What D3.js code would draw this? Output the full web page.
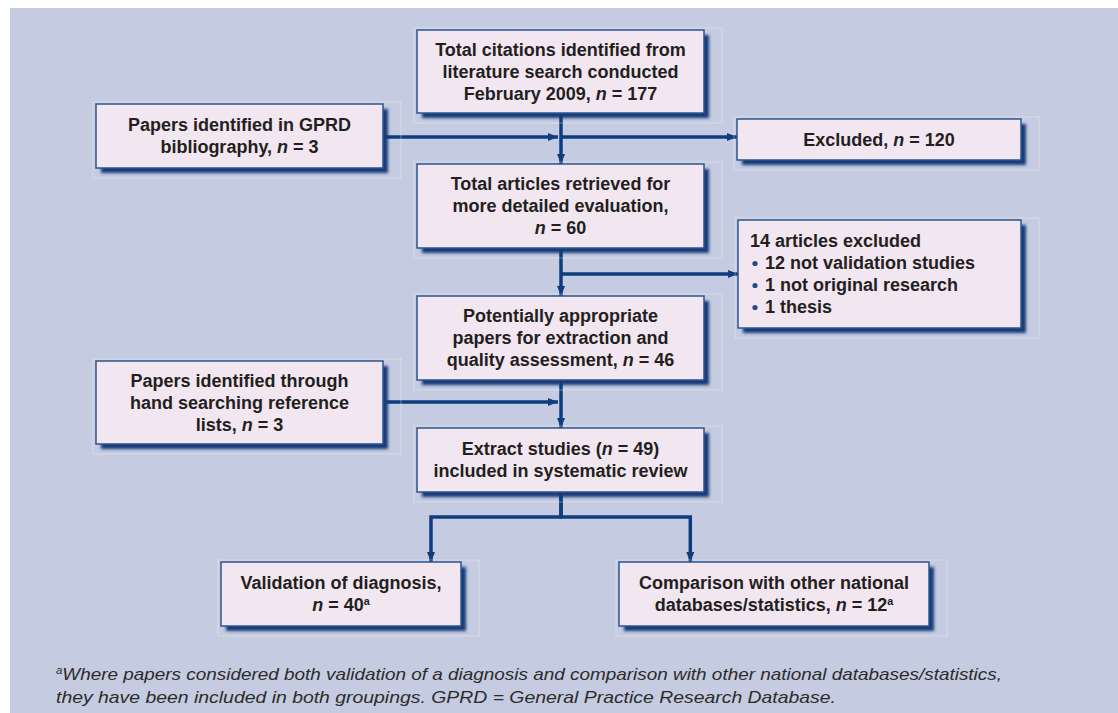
<!DOCTYPE html>
<html>
<head>
<meta charset="utf-8">
<script src="https://cdn.jsdelivr.net/npm/d3@7"></script>
<style>
  body { margin: 0; background: #fff; }
  svg { display: block; }
</style>
</head>
<body>
<div id="chart"></div>
<script>
// flowchart content: one id per box, text lines per box (*..* = italic, ^.. = superscript)
var boxIds = ["search", "gprd", "excluded", "retrieved", "excl14", "appropriate", "hand", "extract", "diagnosis", "comparison"];

var boxLines = {
    search:      ["Total citations identified from", "literature search conducted", "February 2009, *n* = 177"],
    gprd:        ["Papers identified in GPRD", "bibliography, *n* = 3"],
    excluded:    ["Excluded, *n* = 120"],
    retrieved:   ["Total articles retrieved for", "more detailed evaluation,", "*n* = 60"],
    excl14:      ["14 articles excluded"],
    appropriate: ["Potentially appropriate", "papers for extraction and", "quality assessment, *n* = 46"],
    hand:        ["Papers identified through", "hand searching reference", "lists, *n* = 3"],
    extract:     ["Extract studies (*n* = 49)", "included in systematic review"],
    diagnosis:   ["Validation of diagnosis,", "*n* = 40^a"],
    comparison:  ["Comparison with other national", "databases/statistics, *n* = 12^a"]
};

var exclusionReasons = ["12 not validation studies", "1 not original research", "1 thesis"];

// links: [from, to, kind]
var links = [
    ["search", "retrieved", "down"],
    ["gprd", "trunk1", "side"],
    ["trunk1", "excluded", "side"],
    ["retrieved", "appropriate", "down"],
    ["trunk2", "excl14", "side"],
    ["appropriate", "extract", "down"],
    ["hand", "trunk3", "side"],
    ["extract", "diagnosis", "split"],
    ["extract", "comparison", "split"]
];

var footnote = [
    "^aWhere papers considered both validation of a diagnosis and comparison with other national databases/statistics,",
    "they have been included in both groupings. GPRD = General Practice Research Database."
];

// ---- layout (pixels) ----
var width = 1118, height = 713;
var layout = {
    search:      {x: 417, y: 30,  w: 287, h: 83},
    gprd:        {x: 96,  y: 104, w: 287, h: 64},
    excluded:    {x: 737, y: 119, w: 284, h: 41},
    retrieved:   {x: 417, y: 164, w: 287, h: 84},
    excl14:      {x: 738, y: 220, w: 283, h: 108, align: "left"},
    appropriate: {x: 417, y: 296, w: 287, h: 84},
    hand:        {x: 96,  y: 361, w: 287, h: 83},
    extract:     {x: 417, y: 428, w: 287, h: 64},
    diagnosis:   {x: 221, y: 562, w: 240, h: 64},
    comparison:  {x: 619, y: 562, w: 310, h: 64}
};
var trunkX = 561;
var trunks = { trunk1: 137, trunk2: 274, trunk3: 402 };
var splitY = 517;
var footWidths = [946, 780];

var lineH = 22, fontSize = 18;
var navy = "#0e3d7f";

var svg = d3.select("#chart").append("svg")
    .attr("width", width)
    .attr("height", height)
    .style("font-family", "'Liberation Sans', Arial, Helvetica, sans-serif");

var defs = svg.append("defs");
defs.append("filter").attr("id", "blur")
    .attr("x", "-10%").attr("y", "-10%").attr("width", "130%").attr("height", "130%")
  .append("feGaussianBlur").attr("stdDeviation", 1.4);
defs.append("marker")
    .attr("id", "arrow")
    .attr("viewBox", "0 0 10 10")
    .attr("refX", 10).attr("refY", 5)
    .attr("markerWidth", 10).attr("markerHeight", 10)
    .attr("markerUnits", "userSpaceOnUse")
    .attr("orient", "auto")
  .append("path")
    .attr("d", "M0,1 L10,5 L0,9 Z")
    .attr("fill", navy);

svg.append("rect")
    .attr("x", 10).attr("y", 8)
    .attr("width", width - 10).attr("height", height - 8)
    .attr("fill", "#c5cbe0");

// write a line with *italic* and ^super parts as tspans
function richLine(text, s) {
    var parts = s.split(/(\*[^*]+\*|\^[a-z])/).filter(function(p) { return p.length; });
    var raised = false;
    parts.forEach(function(p) {
	var t;
	if (p[0] == "*") {
	    t = text.append("tspan").attr("font-style", "italic").text(p.slice(1, -1));
	} else if (p[0] == "^") {
	    t = text.append("tspan").attr("font-size", "0.6em").attr("dy", -6).text(p.slice(1));
	} else {
	    t = text.append("tspan").text(p);
	}
	if (raised) t.attr("dy", 6);
	raised = p[0] == "^";
    });
}

// ---- connectors ----
var g = svg.append("g")
    .attr("fill", "none")
    .attr("stroke", navy)
    .attr("stroke-width", 3.5);

function nodePos(id) {
    if (trunks[id] !== undefined) return {x: trunkX, y: trunks[id], w: 0, h: 0};
    return layout[id];
}

var line = d3.line();
links.forEach(function(l) {
    var a = nodePos(l[0]), b = nodePos(l[1]), pts;
    if (l[2] == "down") {
	pts = [[trunkX, a.y + a.h], [trunkX, b.y]];
    } else if (l[2] == "side") {
	var y = trunks[l[0]] !== undefined ? trunks[l[0]] : trunks[l[1]];
	var x0 = trunks[l[0]] !== undefined ? trunkX : a.x + a.w;
	var x1 = trunks[l[1]] !== undefined ? trunkX - 3 : b.x;
	pts = [[x0, y], [x1, y]];
    } else {
	var bx = b.x < trunkX ? b.x + b.w * 0.875 : b.x + b.w * 0.23;
	pts = [[trunkX, a.y + a.h], [trunkX, splitY], [bx, splitY], [bx, b.y]];
    }
    g.append("path")
	.attr("d", line(pts))
	.attr("marker-end", "url(#arrow)");
});

// ---- boxes ----
var nodes = svg.selectAll("g.node")
    .data(boxIds)
  .enter().append("g")
    .attr("class", "node")
    .attr("transform", function(d) { return "translate(" + layout[d].x + "," + layout[d].y + ")"; });

nodes.append("rect")
    .attr("x", -3).attr("y", -2)
    .attr("width", function(d) { return layout[d].w + 21; })
    .attr("height", function(d) { return layout[d].h + 12; })
    .attr("fill", "none")
    .attr("stroke", "rgba(255,255,255,0.35)")
    .attr("stroke-width", 1);

nodes.append("rect")
    .attr("x", 5).attr("y", 5)
    .attr("width", function(d) { return layout[d].w; })
    .attr("height", function(d) { return layout[d].h; })
    .attr("fill", "#163a78")
    .attr("filter", "url(#blur)");

nodes.append("rect")
    .attr("width", function(d) { return layout[d].w; })
    .attr("height", function(d) { return layout[d].h; })
    .attr("fill", "#f2e6f0")
    .attr("stroke", "#2d5592")
    .attr("stroke-width", 1.5);

nodes.each(function(d) {
    var box = layout[d], sel = d3.select(this);
    var lines = boxLines[d];
    var n = d == "excl14" ? lines.length + exclusionReasons.length : lines.length;
    var y0 = box.h / 2 - (n - 1) * lineH / 2 + fontSize * 0.36;
    var left = box.align == "left";
    lines.forEach(function(s, i) {
	var t = sel.append("text")
	    .attr("x", left ? 12 : box.w / 2)
	    .attr("y", y0 + i * lineH)
	    .attr("text-anchor", left ? "start" : "middle")
	    .attr("font-size", fontSize)
	    .attr("font-weight", "bold")
	    .attr("fill", "#231f20");
	richLine(t, s);
    });
    if (d == "excl14") {
	exclusionReasons.forEach(function(s, i) {
	    var y = y0 + (lines.length + i) * lineH;
	    sel.append("circle")
		.attr("cx", 17).attr("cy", y - 6).attr("r", 2.6)
		.attr("fill", "#1f4a8a");
	    sel.append("text")
		.attr("x", 27).attr("y", y)
		.attr("font-size", fontSize)
		.attr("font-weight", "bold")
		.attr("fill", "#231f20")
		.text(s);
	});
    }
});

// ---- footnote ----
footnote.forEach(function(s, i) {
    var t = svg.append("text")
	.attr("x", 56)
	.attr("y", 680 + i * 23)
	.attr("font-size", 17)
	.attr("font-style", "italic")
	.attr("fill", "#2b2b2b")
	.attr("textLength", footWidths[i])
	.attr("lengthAdjust", "spacingAndGlyphs");
    richLine(t, s);
});
</script>
</body>
</html>
